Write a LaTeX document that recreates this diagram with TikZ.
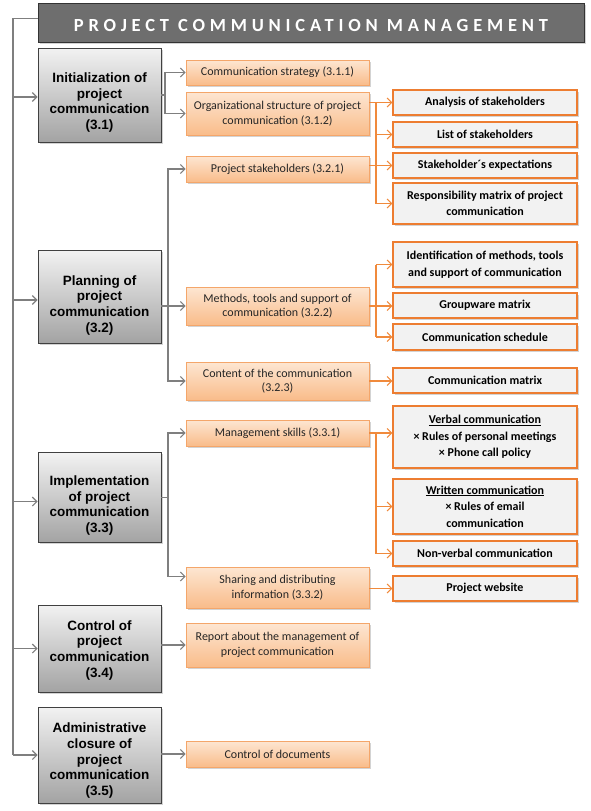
\documentclass[tikz,border=0pt]{standalone}
\usepackage{fontspec}
\setmainfont{Carlito}
\newfontfamily\arialfont{Liberation Sans}
\newfontfamily\titlefont{Carlito}[LetterSpace=26]
\usetikzlibrary{arrows.meta,shadows}
\definecolor{glinec}{HTML}{7F7F7F}
\definecolor{olinec}{HTML}{F08A3C}
\definecolor{oborder}{HTML}{F4A66A}
\definecolor{otop}{HTML}{FDE6D2}
\definecolor{obot}{HTML}{F9BC8A}
\definecolor{gtop}{HTML}{F2F2F2}
\definecolor{gbot}{HTML}{A3A3A3}
\definecolor{rbord}{HTML}{ED7D31}
\definecolor{rfill}{HTML}{F2F2F2}
\definecolor{titlefill}{HTML}{6E6E6E}
\newcommand\gtext[2]{\raisebox{#1}[\height][\depth]{\begin{tabular}{@{}c@{}}#2\end{tabular}}}
\tikzset{
  shd/.style={drop shadow={shadow xshift=1.5pt,shadow yshift=-1.5pt,opacity=0.35}},
  titlebox/.style={draw=black!80, line width=0.9pt, fill=titlefill, shd, text=white,
    minimum width=546pt, minimum height=39pt, inner sep=0pt,
    font=\titlefont\bfseries\fontsize{18.5}{20}\selectfont},
  graybox/.style={draw=black!75, line width=0.9pt, top color=gtop, bottom color=gbot, shd,
    font=\arialfont\bfseries\fontsize{13.5}{15.6}\selectfont,
    minimum width=123pt, inner sep=0pt},
  orangebox/.style={draw=oborder, line width=0.8pt, top color=otop, bottom color=obot, shd,
    align=center, font=\fontsize{12}{14.5}\selectfont, text=black!85,
    minimum width=183pt, inner sep=0pt},
  rightbox/.style={draw=rbord, line width=1.2pt, fill=rfill, shd,
    align=center, font=\bfseries\fontsize{12}{16.5}\selectfont,
    minimum width=184pt, inner sep=0pt},
  gline/.style={draw=glinec, line width=1.1pt},
  garrow/.style={gline, -{Straight Barb[length=4.5pt,width=9pt]}},
  oline/.style={draw=olinec, line width=1.1pt},
  oarrow/.style={oline, -{Straight Barb[length=4.5pt,width=9pt]}}
}
\begin{document}
\begin{tikzpicture}[x=1pt,y=1pt]
\useasboundingbox (0,0) rectangle (590,-811);
% title
\node[titlebox] (title) at (311,-22.5) {\raisebox{-3.5pt}[\height][\depth]{PROJECT COMMUNICATION MANAGEMENT}};
% level 1
\node[graybox, minimum height=94pt] (b31) at (99.5,-95) {\gtext{-8pt}{Initialization of\\project\\communication\\(3.1)}};
\node[graybox, minimum height=93pt] (b32) at (99.5,-296.5) {\gtext{-9pt}{Planning of\\project\\communication\\(3.2)}};
\node[graybox, minimum height=90pt] (b33) at (99.5,-497.5) {\gtext{-8.5pt}{Implementation\\of project\\communication\\(3.3)}};
\node[graybox, minimum height=87pt] (b34) at (99.5,-648.5) {\gtext{-2pt}{Control of\\project\\communication\\(3.4)}};
\node[graybox, minimum height=96pt] (b35) at (99.5,-755) {\gtext{-6pt}{Administrative\\closure of\\project\\communication\\(3.5)}};
% level 2
\node[orangebox, minimum height=25pt] (o311) at (277.5,-72.5) {Communication strategy (3.1.1)};
\node[orangebox, minimum height=43pt] (o312) at (277.5,-113.5) {Organizational structure of project\\communication (3.1.2)};
\node[orangebox, minimum height=26pt] (o321) at (277.5,-169) {Project stakeholders (3.2.1)};
\node[orangebox, minimum height=38pt] (o322) at (277.5,-306) {Methods, tools and support of\\communication (3.2.2)};
\node[orangebox, minimum height=38pt] (o323) at (277.5,-381) {Content of the communication\\(3.2.3)};
\node[orangebox, minimum height=26pt] (o331) at (277.5,-433) {Management skills (3.3.1)};
\node[orangebox, minimum height=41pt] (o332) at (277.5,-587.5) {Sharing and distributing\\information (3.3.2)};
\node[orangebox, minimum height=44pt] (o34) at (277.5,-645) {Report about the management of\\project communication};
\node[orangebox, minimum height=26pt] (o35) at (277.5,-754) {Control of documents};
% level 3
\node[rightbox, minimum height=25pt] (ana) at (485,-102.5) {Analysis of stakeholders};
\node[rightbox, minimum height=25pt] (lst) at (485,-134.5) {List of stakeholders};
\node[rightbox, minimum height=25pt] (exp) at (485,-165.5) {Stakeholder´s expectations};
\node[rightbox, minimum height=41pt] (resp) at (485,-203.5) {Responsibility matrix of project\\communication};
\node[rightbox, minimum height=45pt] (ident) at (485,-264.5) {Identification of methods, tools\\and support of communication};
\node[rightbox, minimum height=25pt] (grp) at (485,-305.5) {Groupware matrix};
\node[rightbox, minimum height=26pt] (sched) at (485,-337) {Communication schedule};
\node[rightbox, minimum height=25pt] (cm) at (485,-380.5) {Communication matrix};
\node[rightbox, minimum height=62pt] (verb) at (485,-437) {\underline{Verbal communication}\\× Rules of personal meetings\\× Phone call policy};
\node[rightbox, minimum height=55pt] (writ) at (485,-506.5) {\underline{Written communication}\\× Rules of email\\communication};
\node[rightbox, minimum height=25pt] (nonv) at (485,-553.5) {Non-verbal communication};
\node[rightbox, minimum height=25pt] (web) at (485,-588.5) {Project website};
% coordinates
\coordinate (spine) at (13,0);
\coordinate (t1) at (165,0);
\coordinate (t2) at (168,0);
\coordinate (t3) at (376,0);
% gray connectors
\draw[gline] ([yshift=4pt]title.west) -| (b35.west -| spine);
\draw[garrow] ([yshift=-2pt]b31.west -| spine) -- ([yshift=-2pt]b31.west);
\draw[garrow] ([yshift=-3.5pt]b32.west -| spine) -- ([yshift=-3.5pt]b32.west);
\draw[garrow] ([yshift=-4pt]b33.west -| spine) -- ([yshift=-4pt]b33.west);
\draw[garrow] (b34.west -| spine) -- (b34.west);
\draw[garrow] (b35.west -| spine) -- (b35.west);
\draw[garrow] (b31.east) -- (b31.east -| t1) |- (o311.west);
\draw[garrow] (b31.east -| t1) |- (o312.west);
\draw[garrow] (b32.east |- o322.west) -- (o322.west);
\draw[garrow] (o322.west -| t2) |- (o321.west);
\draw[garrow] (o322.west -| t2) |- (o323.west);
\draw[garrow] (b33.east) -- (b33.east -| t2) |- (o331.west);
\draw[garrow] (b33.east -| t2) |- ([yshift=11pt]o332.west);
\draw[garrow] (b34.east |- o34.west) -- (o34.west);
\draw[garrow] (b35.east |- o35.west) -- (o35.west);
% orange connectors
\draw[oarrow] (o312.east |- ana.west) -- (ana.west);
\draw[oline] (ana.west -| t3) -- (resp.west -| t3);
\draw[oarrow] (lst.west -| t3) -- (lst.west);
\draw[oarrow] (o321.east |- exp.west) -- (exp.west);
\draw[oarrow] (resp.west -| t3) -- (resp.west);
\draw[oarrow] (o322.east) -- (o322.east -| grp.west);
\draw[oline] (ident.west -| t3) -- (sched.west -| t3);
\draw[oarrow] (ident.west -| t3) -- (ident.west);
\draw[oarrow] (sched.west -| t3) -- (sched.west);
\draw[oarrow] (o323.east) -- (o323.east -| cm.west);
\draw[oarrow] (o331.east) -- (o331.east -| verb.west);
\draw[oline] (o331.east -| t3) -- (nonv.west -| t3);
\draw[oarrow] (writ.west -| t3) -- (writ.west);
\draw[oarrow] (nonv.west -| t3) -- (nonv.west);
\draw[oarrow] (o332.east |- web.west) -- (web.west);
\end{tikzpicture}
\end{document}
